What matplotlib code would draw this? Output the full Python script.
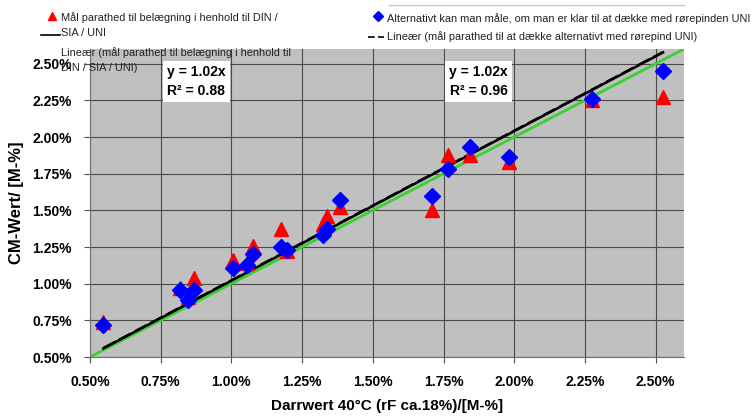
import matplotlib
matplotlib.use("Agg")
import matplotlib.pyplot as plt
from matplotlib.lines import Line2D
from matplotlib.ticker import FuncFormatter
import numpy as np

# Darrwert 40°C (x) and CM-Wert (y), both in M-%
darr = [0.547, 0.817, 0.845, 0.869, 1.004, 1.055, 1.075, 1.176, 1.195,
        1.325, 1.338, 1.383, 1.710, 1.766, 1.845, 1.983, 2.274, 2.526]
cm_din = [0.74, 0.97, 0.91, 1.04, 1.16, 1.14, 1.26, 1.37, 1.22,
          1.41, 1.46, 1.52, 1.50, 1.88, 1.88, 1.83, 2.25, 2.27]
cm_uni = [0.72, 0.96, 0.89, 0.96, 1.11, 1.13, 1.20, 1.25, 1.23,
          1.33, 1.37, 1.57, 1.60, 1.78, 1.93, 1.865, 2.26, 2.45]

slope_din = 1.02
slope_uni = 1.02
r2_din = 0.88
r2_uni = 0.96

ticks = [0.50, 0.75, 1.00, 1.25, 1.50, 1.75, 2.00, 2.25, 2.50]
lo, hi = 0.5, 2.6

lbl_din = "Mål parathed til belægning i henhold til DIN /\nSIA / UNI"
lbl_din_fit = "Lineær (mål parathed til belægning i henhold til\nDIN / SIA / UNI)"
lbl_uni = "Alternativt kan man måle, om man er klar til at dække med rørepinden UNI"
lbl_uni_fit = "Lineær (mål parathed til at dække alternativt med rørepind UNI)"

plt.rcParams['font.family'] = ['Liberation Sans', 'DejaVu Sans']

fig = plt.figure(figsize=(7.52, 4.19), dpi=100)
ax = fig.add_axes([90/752, 1-357/419, 594/752, 308/419])
ax.set_facecolor('#c0c0c0')

x = np.array(darr)
xf = np.array([x.min(), x.max()])

# reference line y = x across the whole plot
ax.plot([lo, hi], [lo, hi], color='#3ad12f', lw=2, zorder=2)
ax.plot(xf, slope_din*xf, color='black', lw=1.8, zorder=3)
ax.plot(xf, slope_uni*xf + 0.004, color='black', lw=1.6, ls=(0, (6, 2)), zorder=3)

ax.plot(darr, cm_din, ls='none', marker='^', ms=10, color='#ff0000', zorder=4)
ax.plot(darr, cm_uni, ls='none', marker='D', ms=8, color='#0000ff', zorder=5)

ax.set_xlim(lo, hi)
ax.set_ylim(lo, hi)
ax.set_xticks(ticks)
ax.set_yticks(ticks)
pct = FuncFormatter(lambda v, p: f"{v:.2f}%")
ax.xaxis.set_major_formatter(pct)
ax.yaxis.set_major_formatter(pct)
ax.grid(True, color='#4a4a4a', lw=0.8)
ax.set_axisbelow(True)
for s in ['top', 'right']:
    ax.spines[s].set_visible(False)
for s in ['left', 'bottom']:
    ax.spines[s].set_color('#707070')
ax.tick_params(axis='both', length=4, width=0.8, color='#505050', pad=9,
               labelsize=10)
for t in ax.get_xticklabels() + ax.get_yticklabels():
    t.set_fontweight('bold')

ax.set_xlabel("Darrwert 40°C (rF ca.18%)/[M-%]", fontsize=11, fontweight='bold', labelpad=7)
ax.set_ylabel("CM-Wert/ [M-%]", fontsize=12, fontweight='bold', labelpad=6)

# equation boxes
box = dict(facecolor='white', edgecolor='none', pad=3)
ax.text(0.875, 2.378, f"y = {slope_din:.2f}x\nR² = {r2_din:.2f}", ha='center', va='center',
        fontsize=10, fontweight='bold', linespacing=1.4, bbox=box, zorder=6)
ax.text(1.874, 2.378, f"y = {slope_uni:.2f}x\nR² = {r2_uni:.2f}", ha='center', va='center',
        fontsize=10, fontweight='bold', linespacing=1.4, bbox=box, zorder=6)

# legend drawn by hand, it sits half over the plot like in the original
W, H = 752, 419
def fx(px): return px / W
def fy(py): return 1 - py / H

tc = '#222222'
fs = 7.9
fig.text(fx(61), fy(12), lbl_din, fontsize=fs, color=tc, va='top', linespacing=1.65)
fig.text(fx(61), fy(47), lbl_din_fit, fontsize=fs, color=tc, va='top', linespacing=1.65)
fig.add_artist(Line2D([fx(52)], [fy(16)], marker='^', ms=6, color='#ff0000', ls='none'))
fig.add_artist(Line2D([fx(41), fx(60)], [fy(35), fy(35)], color='black', lw=1.2))

fig.text(fx(387), fy(19), lbl_uni, fontsize=fs, color=tc, va='center')
fig.text(fx(387), fy(37), lbl_uni_fit, fontsize=fs, color=tc, va='center')
fig.add_artist(Line2D([fx(378)], [fy(16)], marker='D', ms=5, color='#0000ff', ls='none'))
fig.add_artist(Line2D([fx(368), fx(384)], [fy(37), fy(37)], color='black', lw=1.2, ls=(0, (4, 2))))
fig.add_artist(Line2D([fx(389), fx(684)], [fy(5), fy(5)], color='#c8c8c8', lw=1))

fig.savefig("out.png", dpi=100)
